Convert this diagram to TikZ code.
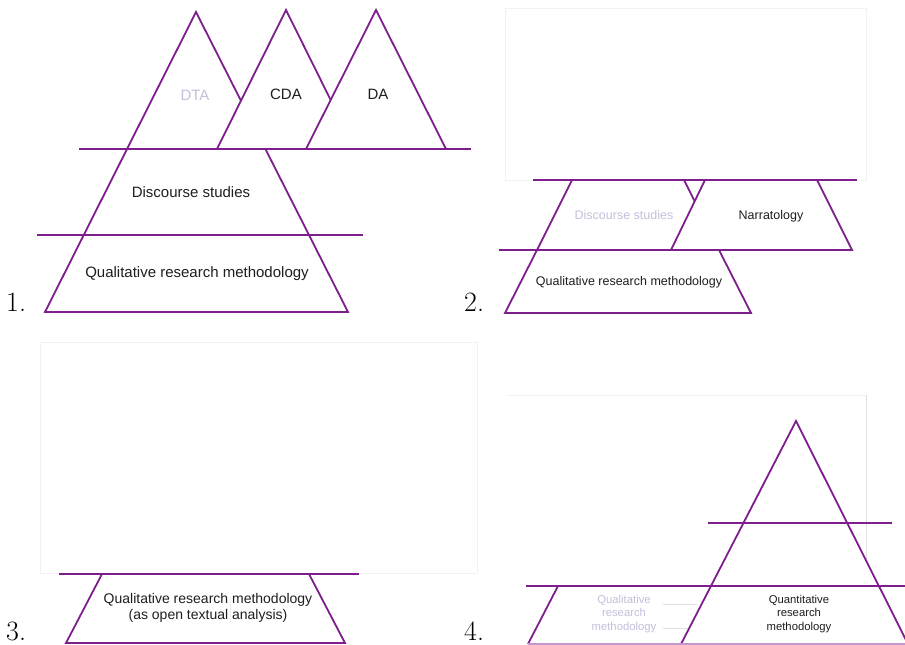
\documentclass[tikz,border=0pt]{standalone}
\usepackage{fontspec}
\newfontfamily\arial{Liberation Sans}
\definecolor{pur}{RGB}{125,30,140}
\definecolor{lav}{RGB}{198,190,220}
\definecolor{lpur}{RGB}{195,150,205}
\definecolor{faint}{RGB}{242,242,242}
\definecolor{txt}{RGB}{30,30,30}
\begin{document}
\begin{tikzpicture}[x=1pt,y=-1pt,
  shp/.style={draw=pur,line width=1.8pt,line join=miter},
  wfill/.style={shp,fill=white},
  frame/.style={draw=faint,line width=0.6pt},
  lbl/.style={font=\arial\fontsize{15}{18}\selectfont,inner sep=0pt,text=txt},
  lbltwo/.style={font=\arial\fontsize{12.5}{15}\selectfont,inner sep=0pt,text=txt},
  lblthree/.style={font=\arial\fontsize{14}{16}\selectfont,inner sep=0pt,text=txt,align=center},
  lblfour/.style={font=\arial\fontsize{11.3}{13.4}\selectfont,inner sep=0pt,text=txt,align=center},
  num/.style={font=\fontsize{28}{30}\selectfont,inner sep=0pt,anchor=base west}]
\useasboundingbox (0,0) rectangle (905,645);
\fill[white] (0,0) rectangle (905,645);

% faint frames
\draw[frame] (505,8) rectangle (866,180);
\draw[frame] (40,342) rectangle (477,573);
\draw[frame] (507,395) -- (866,395);
\draw[frame,draw=black!12] (866,395) -- (866,587);

% ---------- Panel 1 ----------
\draw[shp] (196,12) -- (348,312) -- (45,312) -- cycle;
\draw[wfill] (286,10) -- (355,149) -- (217,149) -- cycle;
\draw[wfill] (376,10) -- (446,149) -- (306,149) -- cycle;
\draw[shp] (79,149) -- (471,149);
\draw[shp] (37,235) -- (363,235);
\node[lbl,text=lav] (dta) at (195,95) {DTA};
\node[lbl] (cda) at (286,94) {CDA};
\node[lbl] (da) at (378,94) {DA};
\node[lbl] (ds1) at (191,192) {Discourse studies};
\node[lbl] (qrm1) at (197,274) {Qualitative research methodology};
\node[num] (n1) at (6,311) {1.};

% ---------- Panel 2 ----------
\draw[shp] (572,180) -- (684,180) -- (719,250) -- (537,250) -- cycle;
\draw[wfill] (705,180) -- (817,180) -- (852,250) -- (671,250) -- cycle;
\draw[shp] (533,180) -- (857,180);
\draw[shp] (499,250) -- (763,250);
\draw[shp] (537,250) -- (719,250) -- (751,313) -- (505,313) -- cycle;
\node[lbltwo,text=lav] (ds2) at (624,215) {Discourse studies};
\node[lbltwo] (nar) at (771,216) {Narratology};
\node[lbltwo] (qrm2) at (629,282) {Qualitative research methodology};
\node[num] (n2) at (464,311) {2.};

% ---------- Panel 3 ----------
\draw[shp] (59,574) -- (359,574);
\draw[shp] (102,574) -- (66,643) -- (345,643) -- (309,574);
\draw[frame] (230,596) -- (230,623);
\node[lblthree] (qrm3) at (208,608) {Qualitative research methodology\\(as open textual analysis)};
\node[num] (n3) at (6,640) {3.};

% ---------- Panel 4 ----------
\draw[shp] (558,586) -- (528,644);
\draw[wfill] (796,421) -- (910,648) -- (679,648) -- cycle;
\draw[shp] (708,523) -- (892,523);
\draw[shp] (526,586) -- (905,586);
\draw[draw=lpur,line width=1.8pt] (528,644) -- (905,644);
\draw[frame,draw=black!12] (663,604) -- (697,604);
\draw[frame,draw=black!12] (663,628) -- (688,628);
\node[lblfour,text=lav] (qrm4) at (624,614) {Qualitative\\research\\methodology};
\node[lblfour] (qnt) at (799,614) {Quantitative\\research\\methodology};
\node[num] (n4) at (464,640) {4.};
\end{tikzpicture}
\end{document}
